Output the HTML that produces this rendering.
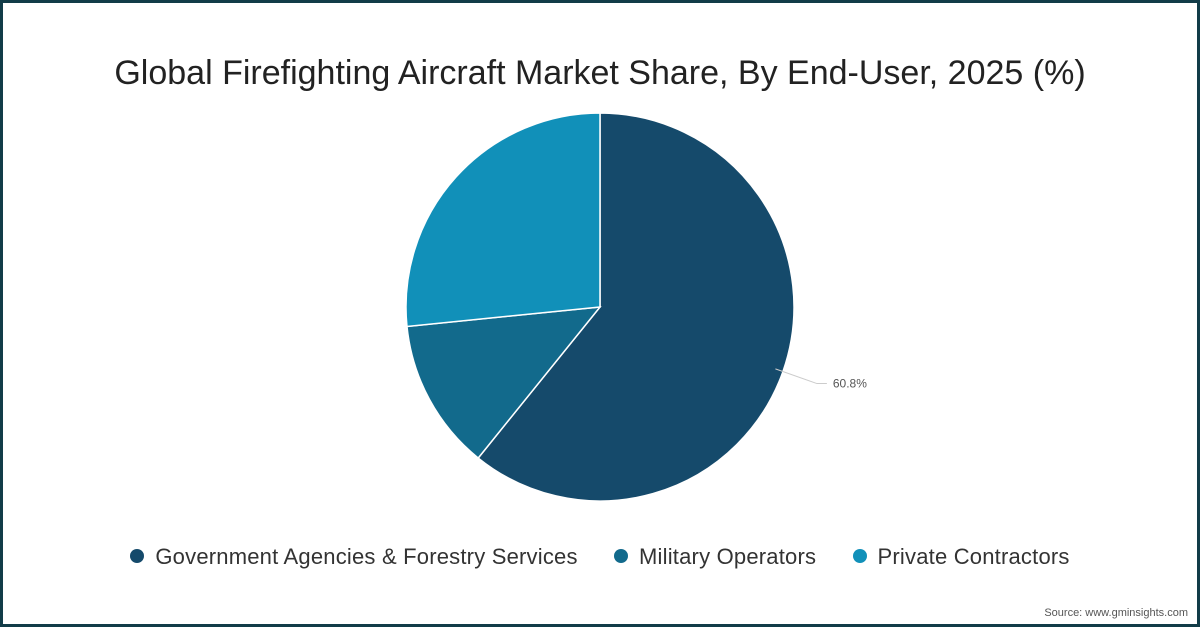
<!DOCTYPE html>
<html><head><meta charset="utf-8"><style>
html,body{margin:0;padding:0}
body{width:1200px;height:627px;position:relative;overflow:hidden;background:#fff;font-family:"Liberation Sans",sans-serif}
#frame{position:absolute;left:0;top:0;width:1194px;height:621px;border:3px solid #123c48}
#title{position:absolute;left:0;width:1200px;top:54px;text-align:center;font-size:34px;color:#222}
#legend{position:absolute;top:544px;left:0;width:1200px;text-align:center;font-size:22px;letter-spacing:0.2px;color:#333}
.li{display:inline-block;margin:0 15px}
.dot{display:inline-block;width:14px;height:14px;border-radius:50%;margin-right:11px;vertical-align:1px}
#src{position:absolute;right:12px;bottom:8px;font-size:11px;color:#555}
</style></head><body>
<div id="frame"></div>
<div id="title">Global Firefighting Aircraft Market Share, By End-User, 2025 (%)</div>
<svg id="pie" width="1200" height="627" style="position:absolute;left:0;top:0"></svg>
<div id="legend">
<span class="li"><span class="dot" style="background:#154a6b"></span>Government Agencies &amp; Forestry Services</span>
<span class="li"><span class="dot" style="background:#126a8c"></span>Military Operators</span>
<span class="li"><span class="dot" style="background:#1190b9"></span>Private Contractors</span>
</div>
<div id="src">Source: www.gminsights.com</div>
<script>
const categories=["Government Agencies & Forestry Services","Military Operators","Private Contractors"];
const values=[60.8,12.6,26.6];
const colors=["#154a6b","#126a8c","#1190b9"];
const labels=["60.8%","",""];
const svg=document.getElementById('pie');
const NS="http://www.w3.org/2000/svg";
const cx=600,cy=307,r=194;
const total=values.reduce((a,b)=>a+b,0);
function pt(a,rr){return [cx+rr*Math.sin(a),cy-rr*Math.cos(a)];}
let start=0;
values.forEach((v,i)=>{
  const sweep=v/total*2*Math.PI,end=start+sweep;
  const [x1,y1]=pt(start,r),[x2,y2]=pt(end,r);
  const p=document.createElementNS(NS,'path');
  p.setAttribute('d',`M${cx},${cy}L${x1},${y1}A${r},${r} 0 ${sweep>Math.PI?1:0} 1 ${x2},${y2}Z`);
  p.setAttribute('fill',colors[i]);p.setAttribute('stroke','#fff');p.setAttribute('stroke-width','1.5');
  
  
  svg.appendChild(p);
  if(labels[i]){
    const mid=start+sweep/2;
    const [ax,ay]=pt(mid,r-8),[bx,by]=pt(mid,r+36);
    const right=Math.sin(mid)>0;
    const l=document.createElementNS(NS,'polyline');
    l.setAttribute('points',`${ax},${ay} ${bx},${by} ${bx+(right?10:-10)},${by}`);
    l.setAttribute('fill','none');l.setAttribute('stroke','#ccc');
    
    
    svg.appendChild(l);
    const t=document.createElementNS(NS,'text');
    t.setAttribute('x',bx+(right?16:-16));t.setAttribute('y',by+4);
    t.setAttribute('text-anchor',right?'start':'end');
    t.setAttribute('font-size','12');t.setAttribute('fill','#555');
    t.setAttribute('font-family','Liberation Sans, sans-serif');
    t.textContent=labels[i];
    
    
    svg.appendChild(t);
  }
  start=end;
});
</script>
</body></html>
